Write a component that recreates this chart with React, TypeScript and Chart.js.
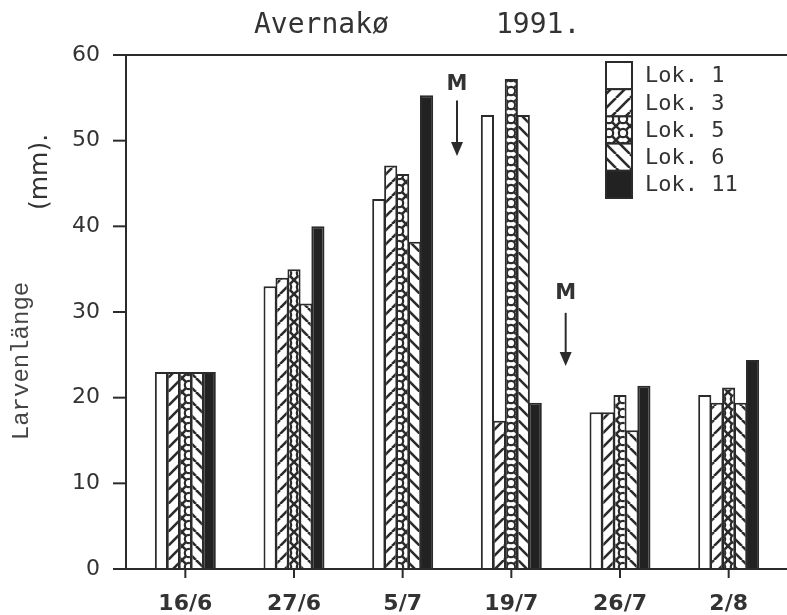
import { useEffect, useRef } from "react";
import { Chart, registerables } from "chart.js";

Chart.register(...registerables);

const categories = ["16/6", "27/6", "5/7", "19/7", "26/7", "2/8"];
const lok1 = [23, 33, 43.2, 53, 18.3, 20.3];
const lok3 = [23, 34, 47.1, 17.3, 18.3, 19.4];
const lok5 = [23, 35, 46.1, 57.2, 20.3, 21.2];
const lok6 = [23, 31, 38.2, 53, 16.2, 19.4];
const lok11 = [23, 40, 55.3, 19.4, 21.4, 24.4];
const seriesLabels = ["Lok. 1", "Lok. 3", "Lok. 5", "Lok. 6", "Lok. 11"];
const titleLeft = "Avernakø";
const titleRight = "1991.";
const yTitleMain = "Larvenlänge";
const yTitleUnit = "(mm).";
const yMin = 0;
const yMax = 60;
const yStep = 10;
// "M" markers: position between categories (category index), text value, arrow start/end values
const markerText = "M";
const markerPositions = [2.5, 3.5];
const markerTextValues = [56.6, 32.2];
const markerArrowFrom = [54.7, 29.9];
const markerArrowTo = [48.2, 23.7];

const INK = "#2b2b2b";
const TEXT = "#333333";

type Kind = "white" | "fwd" | "cross" | "back" | "solid";

function makeFill(kind: Kind, s = 14): any {
  if (kind === "white") return "#ffffff";
  if (kind === "solid") return "#222222";
  const c = document.createElement("canvas");
  c.width = s;
  c.height = s;
  const g = c.getContext("2d")!;
  g.fillStyle = "#ffffff";
  g.fillRect(0, 0, s, s);
  g.strokeStyle = INK;
  g.lineWidth = 2.6;
  g.lineCap = "butt";
  const fwd = () => {
    for (const k of [-s, 0, s]) {
      g.beginPath();
      g.moveTo(k, s);
      g.lineTo(k + s, 0);
      g.stroke();
    }
  };
  const back = () => {
    for (const k of [-s, 0, s]) {
      g.beginPath();
      g.moveTo(k, 0);
      g.lineTo(k + s, s);
      g.stroke();
    }
  };
  if (kind === "fwd") fwd();
  if (kind === "back") back();
  if (kind === "cross") {
    fwd();
    back();
    g.beginPath();
    g.arc(s / 2, s / 2, s * 0.3, 0, Math.PI * 2);
    g.fillStyle = "#ffffff";
    g.fill();
    g.lineWidth = 2.2;
    g.stroke();
  }
  return g.createPattern(c, "repeat");
}

const overlay = {
  id: "overlay",
  afterDraw(chart: any) {
    const { ctx, chartArea } = chart;
    const x = chart.scales.x;
    const y = chart.scales.y;
    const axisX = chartArea.left - 5;
    const W = chart.width;
    ctx.save();
    ctx.strokeStyle = INK;
    ctx.lineWidth = 2;
    // left axis
    ctx.beginPath();
    ctx.moveTo(axisX, chartArea.top);
    ctx.lineTo(axisX, chartArea.bottom);
    ctx.stroke();
    // bottom axis
    ctx.beginPath();
    ctx.moveTo(axisX - 13, chartArea.bottom);
    ctx.lineTo(W, chartArea.bottom);
    ctx.stroke();
    // top frame line
    ctx.beginPath();
    ctx.moveTo(axisX, chartArea.top);
    ctx.lineTo(W, chartArea.top);
    ctx.stroke();
    // y tick marks
    for (let v = yMin; v <= yMax; v += yStep) {
      const py = y.getPixelForValue(v);
      ctx.beginPath();
      ctx.moveTo(axisX - 13, py);
      ctx.lineTo(axisX, py);
      ctx.stroke();
    }
    // x tick marks
    categories.forEach((_, i) => {
      const px = x.getPixelForValue(i);
      ctx.beginPath();
      ctx.moveTo(px, chartArea.bottom);
      ctx.lineTo(px, chartArea.bottom + 9);
      ctx.stroke();
    });

    // title
    ctx.fillStyle = TEXT;
    ctx.font = "28px 'DejaVu Sans Mono'";
    ctx.textBaseline = "alphabetic";
    ctx.textAlign = "left";
    ctx.fillText(titleLeft, 254, 33);
    ctx.fillText(titleRight, 496, 33);

    // y titles
    ctx.save();
    ctx.translate(22, 361);
    ctx.rotate(-Math.PI / 2);
    ctx.font = "24px 'Liberation Mono'";
    ctx.textAlign = "center";
    ctx.textBaseline = "middle";
    ctx.fillStyle = "#444444";
    ctx.fillText(yTitleMain, 0, 0);
    ctx.restore();
    ctx.save();
    ctx.translate(40, 172);
    ctx.rotate(-Math.PI / 2);
    ctx.font = "25px 'DejaVu Sans'";
    ctx.textAlign = "center";
    ctx.textBaseline = "middle";
    ctx.fillStyle = TEXT;
    ctx.fillText(yTitleUnit, 0, 0);
    ctx.restore();

    // M markers
    const step = x.getPixelForValue(1) - x.getPixelForValue(0);
    markerPositions.forEach((p, i) => {
      const px = x.getPixelForValue(0) + step * p;
      ctx.fillStyle = TEXT;
      ctx.font = "bold 21px 'DejaVu Sans'";
      ctx.textAlign = "center";
      ctx.textBaseline = "middle";
      ctx.fillText(markerText, px, y.getPixelForValue(markerTextValues[i]));
      const y0 = y.getPixelForValue(markerArrowFrom[i]);
      const y1 = y.getPixelForValue(markerArrowTo[i]);
      ctx.strokeStyle = INK;
      ctx.lineWidth = 2;
      ctx.beginPath();
      ctx.moveTo(px, y0);
      ctx.lineTo(px, y1 - 12);
      ctx.stroke();
      ctx.fillStyle = INK;
      ctx.beginPath();
      ctx.moveTo(px - 6, y1 - 14);
      ctx.lineTo(px + 6, y1 - 14);
      ctx.lineTo(px, y1);
      ctx.closePath();
      ctx.fill();
    });

    // legend
    const ds = chart.data.datasets;
    const bx = 606;
    const bw = 26;
    const top = 62;
    const bh = 27.2;
    ds.forEach((d: any, i: number) => {
      const by = top + i * bh;
      ctx.fillStyle = d.backgroundColor;
      ctx.fillRect(bx, by, bw, bh);
      ctx.strokeStyle = INK;
      ctx.lineWidth = 2;
      ctx.strokeRect(bx, by, bw, bh);
      ctx.fillStyle = TEXT;
      ctx.font = "22px 'DejaVu Sans Mono'";
      ctx.textAlign = "left";
      ctx.textBaseline = "middle";
      ctx.fillText(d.label, 645, by + bh / 2 + 1);
    });
    ctx.restore();
  },
};

export default function App() {
  const ref = useRef<HTMLCanvasElement | null>(null);
  useEffect(() => {
    if (!ref.current) return;
    const kinds: Kind[] = ["white", "fwd", "cross", "back", "solid"];
    const values = [lok1, lok3, lok5, lok6, lok11];
    const chart = new Chart(ref.current, {
      type: "bar",
      data: {
        labels: categories,
        datasets: values.map((v, i) => ({
          label: seriesLabels[i],
          data: v,
          backgroundColor: makeFill(kinds[i]),
          borderColor: INK,
          borderWidth: 2,
          categoryPercentage: 0.55,
          barPercentage: 1.1,
        })),
      },
      options: {
        responsive: false,
        animation: false,
        layout: { padding: { top: 55, right: 4, left: 0, bottom: 0 } },
        plugins: {
          legend: { display: false },
          title: { display: false },
          tooltip: { enabled: false },
        },
        scales: {
          x: {
            grid: { display: false, drawTicks: false },
            border: { display: false },
            ticks: {
              color: TEXT,
              font: { family: "'DejaVu Sans'", size: 22, weight: "bold" },
              padding: 22,
              maxRotation: 0,
            },
            afterFit: (s: any) => {
              s.height = 46;
            },
          },
          y: {
            min: yMin,
            max: yMax,
            grid: { display: false, drawTicks: false },
            border: { display: false },
            ticks: {
              stepSize: yStep,
              color: TEXT,
              font: { family: "'DejaVu Sans'", size: 22 },
              padding: 31,
            },
            afterFit: (s: any) => {
              s.width = 131;
            },
          },
        },
      },
      plugins: [overlay],
    });
    return () => chart.destroy();
  }, []);
  return (
    <div style={{ position: "absolute", left: 0, top: 0, width: 787, height: 615, background: "#fff" }}>
      <canvas ref={ref} width={787} height={615} />
    </div>
  );
}
